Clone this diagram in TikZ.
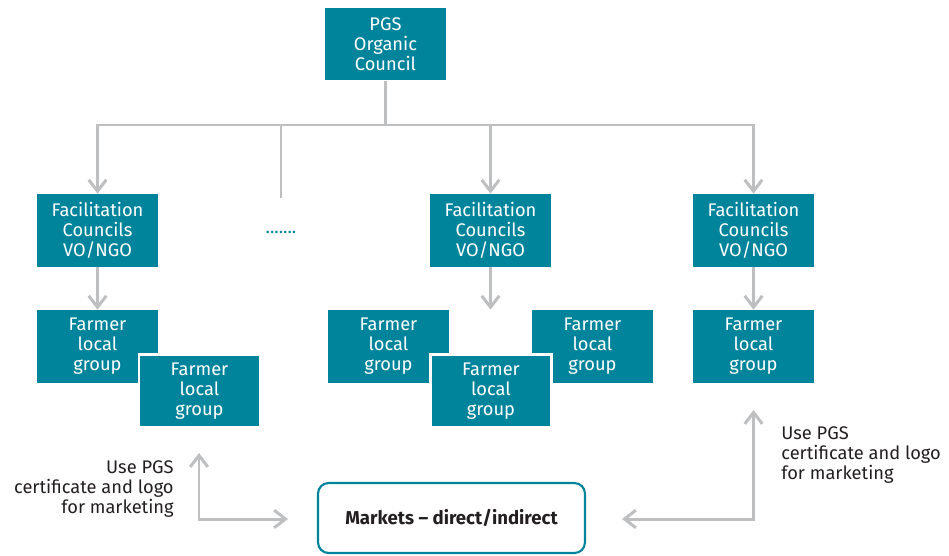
\documentclass[tikz,border=0pt]{standalone}
\usepackage{fontspec}
\setmainfont{Fira Sans}
\usepackage{tikz}
\usetikzlibrary{arrows.meta}
\definecolor{pgsteal}{RGB}{0,132,155}
\definecolor{pgsgray}{RGB}{190,191,193}
\definecolor{pgstext}{RGB}{35,31,32}

\begin{document}
\begin{tikzpicture}[x=0.02cm,y=-0.02cm]
        \tikzstyle{every node} = [font=\fontsize{10.4}{11.4}\selectfont, align=center, inner sep=0pt]
        \tikzstyle{box} = [rectangle, fill=pgsteal, text=white, minimum width=2.42cm, minimum height=1.46cm]
        \tikzstyle{front} = [box, draw=white, line width=1.2pt]
        \tikzstyle{link} = [draw=pgsgray, line width=1.7pt]
        \tikzstyle{tip} = [link, -{Straight Barb[length=6.5pt,width=10pt]}]
        \tikzstyle{both} = [link, {Straight Barb[length=6.5pt,width=10pt]}-{Straight Barb[length=6.5pt,width=10pt]}]
        \useasboundingbox (0,0) rectangle (949,555);
        % top
        \node[box] (pgs) at (385.5,44) {PGS\\Organic\\Council};
        % facilitation councils
        \node[box] (fc1) at (97.5,230.5) {Facilitation\\Councils\\VO/NGO};
        \node[box] (fc2) at (490.5,230.5) {Facilitation\\Councils\\VO/NGO};
        \node[box] (fc3) at (753.5,230.5) {Facilitation\\Councils\\VO/NGO};
        \node[text=pgsteal] (dots) at (281,232) {.......};
        % farmer groups
        \node[box] (fl1) at (97.5,346.5) {Farmer\\local\\group};
        \node[front] (fl2) at (199.5,391) {Farmer\\local\\group};
        \node[box] (fm1) at (388.5,346.5) {Farmer\\local\\group};
        \node[box] (fm3) at (592.5,346.5) {Farmer\\local\\group};
        \node[front] (fm2) at (491,391) {Farmer\\local\\group};
        \node[box] (fr1) at (753.5,346.5) {Farmer\\local\\group};
        % market
        \node[draw=pgsteal, line width=1.2pt, rounded corners=6pt, minimum width=5.34cm, minimum height=1.4cm,
              text=pgstext, font=\fontsize{10.6}{11.4}\selectfont\bfseries] (mkt) at (451.5,518) {Markets -- direct/indirect};
        \node[text=pgstext, anchor=east, align=right] (usel) at (174,489) {Use PGS\\certificate and logo\\for marketing};
        \node[text=pgstext, anchor=west, align=left] (user) at (781,455) {Use PGS\\certificate and logo\\for marketing};
        % connectors
        \coordinate (bus) at (385.5,125);
        \coordinate (stub) at (281,198);
        \coordinate (lup) at (199,453);
        \coordinate (lend) at (288,519);
        \coordinate (rup) at (753.5,410);
        \coordinate (rend) at (622,519);
        \draw[link] (pgs) -- (bus);
        \draw[link] (bus) -| (stub);
        \foreach \to in {fc1, fc2, fc3}
            \draw[tip] (bus) -| (\to);
        \foreach \from/\to in {fc1/fl1, fc3/fr1}
            \draw[tip] (\from) -- (\to);
        \draw[tip] (fc2) -- (fc2.south |- fm1.north);
        \draw[both] (lup) |- (lend);
        \draw[both] (rend) -| (rup);
    \end{tikzpicture}
\end{document}
